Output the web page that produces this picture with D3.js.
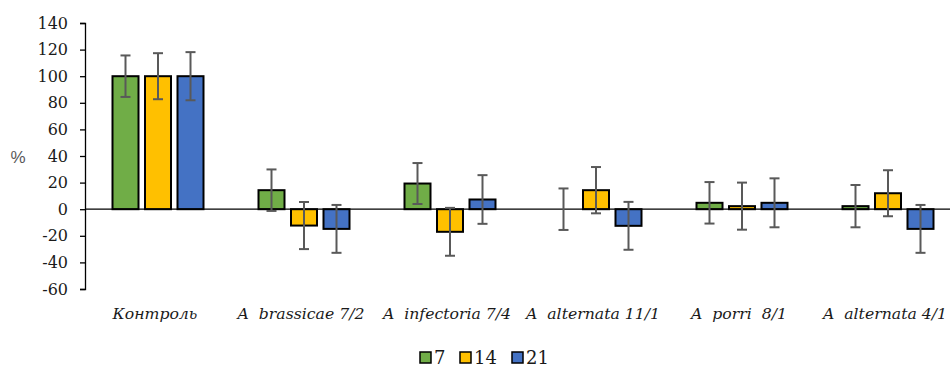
<!DOCTYPE html>
<html lang="ru">
  <head>
    <meta charset="utf-8">
    <title>chart</title>
    <script src="https://d3js.org/d3.v7.min.js"></script>
    <style>
      body { margin: 0; background: #fff; }
    </style>
  </head>
  <body>
    <div id="chart"></div>
    <script>
      // data
      const categories = ["Контроль", "A  brassicae 7/2", "A  infectoria 7/4", "A  alternata 11/1", "A  porri  8/1", "A  alternata 4/1"];
      const seriesNames = ["7", "14", "21"];
      const colors = ["#70ad47", "#ffc000", "#4472c4"];
      const day7 = [100, 14.3, 19.3, 0, 4.8, 2.3];
      const day14 = [100, -12.3, -17, 14.3, 2.3, 12];
      const day21 = [100, -14.8, 7.3, -12.5, 4.8, -14.8];
      const err7 = [15.6, 15.6, 15.4, 15.6, 15.6, 15.9];
      const err14 = [17.3, 17.7, 18, 17.4, 17.7, 17.3];
      const err21 = [18.1, 18, 18.3, 18, 18.4, 18];
      const yTicks = [-60, -40, -20, 0, 20, 40, 60, 80, 100, 120, 140];

      const serif = "DejaVu Serif, serif";
      const W = 950, H = 365;
      const svg = d3.select("#chart").append("svg")
        .attr("width", W).attr("height", H);

      // x: each group is 146px wide, starts at the axis
      const x = d3.scaleBand()
        .domain(categories)
        .range([85, 85 + 146 * categories.length])
        .paddingInner(0).paddingOuter(0);

      const sub = d3.scaleBand()
        .domain(seriesNames)
        .range([-45.5, 45.5])
        .paddingInner(0.2).paddingOuter(0);

      const y = d3.scaleLinear()
        .domain([-60, 140])
        .range([289, 23]);

      // y axis (plain hyphen for negatives, like the original)
      const yAxis = d3.axisLeft(y).tickValues(yTicks).tickSize(5).tickPadding(12)
        .tickFormat(function(d) { return String(d); });
      const ga = svg.append("g")
        .attr("transform", "translate(85,0)")
        .call(yAxis)
        .attr("font-family", serif);
      ga.select(".domain").attr("stroke", "#000").attr("stroke-width", 1.3);
      ga.selectAll(".tick line").attr("stroke", "#000").attr("stroke-width", 1.3);
      ga.selectAll(".tick text")
        .attr("fill", "#1a1a1a")
        .attr("font-size", "16px");

      svg.append("text")
        .attr("x", 18).attr("y", 163)
        .attr("text-anchor", "middle")
        .attr("fill", "#595959")
        .attr("font-family", "Liberation Sans, Arial, sans-serif")
        .attr("font-size", "17px")
        .text("%");

      const values = [day7, day14, day21];
      const errs = [err7, err14, err21];

      const rows = [];
      categories.forEach(function(c, i) {
        seriesNames.forEach(function(s, j) {
          rows.push({cat: c, s: s, j: j, v: values[j][i], e: errs[j][i]});
        });
      });

      function bx(d) { return x(d.cat) + x.bandwidth() / 2 + sub(d.s); }

      // bars
      svg.append("g").selectAll("rect")
        .data(rows.filter(function(d) { return d.v !== 0; }))
        .join("rect")
          .attr("x", bx)
          .attr("width", sub.bandwidth())
          .attr("y", function(d) { return y(Math.max(0, d.v)); })
          .attr("height", function(d) { return Math.abs(y(d.v) - y(0)); })
          .attr("fill", function(d) { return colors[d.j]; })
          .attr("stroke", "#000")
          .attr("stroke-width", 2);

      // zero line
      svg.append("line")
        .attr("x1", 85).attr("x2", W)
        .attr("y1", y(0)).attr("y2", y(0))
        .attr("stroke", "#000").attr("stroke-width", 1.3);

      // error bars
      const eg = svg.append("g").attr("stroke", "#595959").attr("stroke-width", 2);
      rows.forEach(function(d) {
        const cx = bx(d) + sub.bandwidth() / 2;
        const y1 = y(d.v + d.e), y2 = y(d.v - d.e);
        eg.append("line").attr("x1", cx).attr("x2", cx).attr("y1", y1).attr("y2", y2);
        eg.append("line").attr("x1", cx - 5).attr("x2", cx + 5).attr("y1", y1).attr("y2", y1);
        eg.append("line").attr("x1", cx - 5).attr("x2", cx + 5).attr("y1", y2).attr("y2", y2);
      });

      // category labels
      svg.append("g").selectAll("text")
        .data(categories)
        .join("text")
          .attr("x", function(d) { return x(d) + x.bandwidth() / 2 - 3; })
          .attr("y", 319)
          .attr("text-anchor", "middle")
          .attr("fill", "#1a1a1a")
          .attr("font-family", serif)
          .attr("font-style", "italic")
          .attr("font-size", "15.7px")
          .style("white-space", "pre")
          .text(function(d) { return d; });

      // legend
      const legX = [420, 460, 512];
      const lg = svg.append("g");
      seriesNames.forEach(function(s, j) {
        lg.append("rect")
          .attr("x", legX[j]).attr("y", 352)
          .attr("width", 11).attr("height", 11)
          .attr("fill", colors[j]).attr("stroke", "#000").attr("stroke-width", 1.5);
        lg.append("text")
          .attr("x", legX[j] + 14).attr("y", 364)
          .attr("fill", "#1a1a1a")
          .attr("font-family", serif)
          .attr("font-size", "18px")
          .text(s);
      });
    </script>
  </body>
</html>
